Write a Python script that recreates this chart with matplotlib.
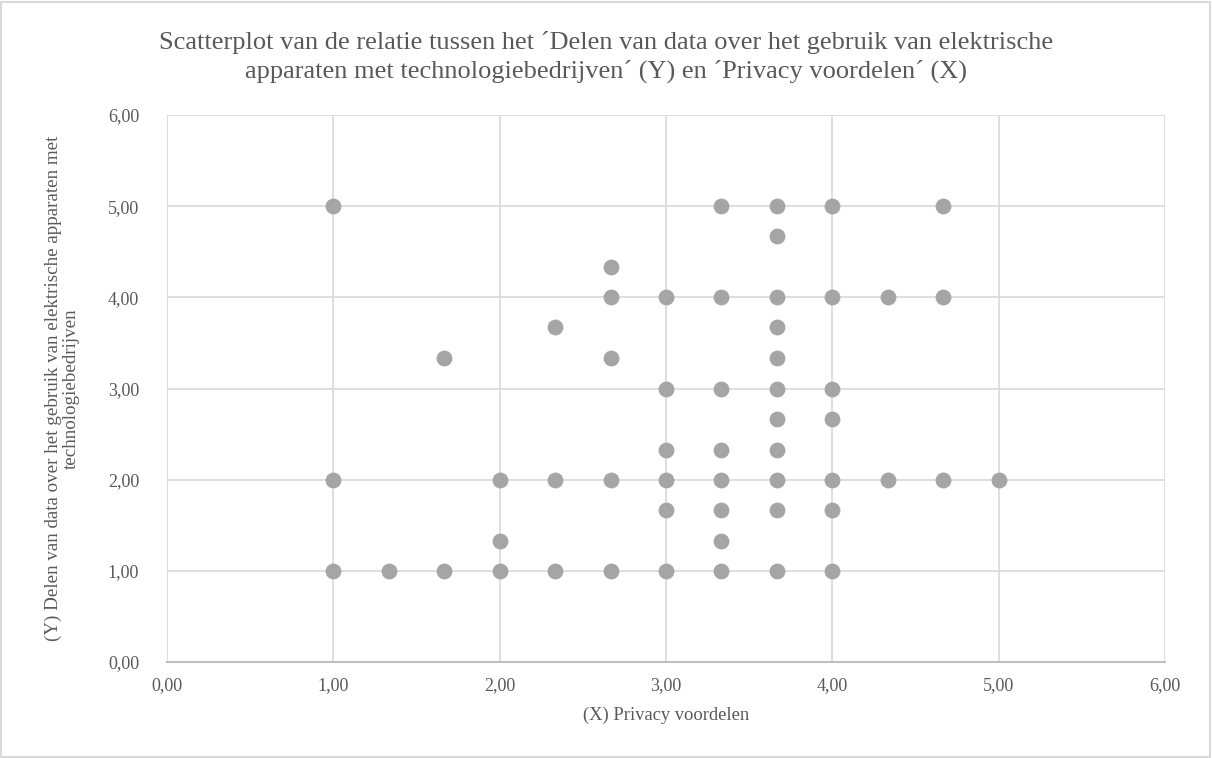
import numpy as np
import matplotlib.pyplot as plt
from matplotlib.patches import Rectangle

# values read per x column (thirds of a point)
x_1_00 = [5.00, 2.00, 1.00]
x_1_33 = [1.00]
x_1_67 = [3.33, 1.00]
x_2_00 = [2.00, 1.33, 1.00]
x_2_33 = [3.67, 2.00, 1.00]
x_2_67 = [4.33, 4.00, 3.33, 2.00, 1.00]
x_3_00 = [4.00, 3.00, 2.33, 2.00, 1.67, 1.00]
x_3_33 = [5.00, 4.00, 3.00, 2.33, 2.00, 1.67, 1.33, 1.00]
x_3_67 = [5.00, 4.67, 4.00, 3.67, 3.33, 3.00, 2.67, 2.33, 2.00, 1.67, 1.00]
x_4_00 = [5.00, 4.00, 3.00, 2.67, 2.00, 1.67, 1.00]
x_4_33 = [4.00, 2.00]
x_4_67 = [5.00, 4.00, 2.00]
x_5_00 = [2.00]

columns = {1.00: x_1_00, 1.333: x_1_33, 1.667: x_1_67, 2.00: x_2_00,
           2.333: x_2_33, 2.667: x_2_67, 3.00: x_3_00, 3.333: x_3_33,
           3.667: x_3_67, 4.00: x_4_00, 4.333: x_4_33, 4.667: x_4_67,
           5.00: x_5_00}

xs, ys = [], []
for xv, yvals in columns.items():
    for yv in yvals:
        xs.append(xv)
        ys.append(yv)

title = ("Scatterplot van de relatie tussen het \u00b4Delen van data over het gebruik van elektrische\n"
         "apparaten met technologiebedrijven\u00b4 (Y) en \u00b4Privacy voordelen\u00b4 (X)")
xlabel = "(X) Privacy voordelen"
ylabel = "(Y) Delen van data over het gebruik van elektrische apparaten met\ntechnologiebedrijven"
ticks = [0, 1, 2, 3, 4, 5, 6]

plt.rcParams['font.family'] = ['Liberation Serif', 'DejaVu Serif']
txt = '#595959'
grid = '#D9D9D9'

fig = plt.figure(figsize=(12.12, 7.58), dpi=100)
fig.patches.append(Rectangle((0.001, 0.001), 0.997, 0.996, transform=fig.transFigure,
                             fill=False, edgecolor=grid, linewidth=1.5))
ax = fig.add_axes([0.1378, 0.1266, 0.8234, 0.7216])

ax.scatter(xs, ys, s=130, color='#A5A5A5', linewidths=0, zorder=3, clip_on=False)

ax.set_xlim(0, 6)
ax.set_ylim(0, 6)
ax.set_xticks(ticks)
ax.set_yticks(ticks)
ax.set_xticklabels([f"{t:.2f}".replace('.', ',') for t in ticks])
ax.set_yticklabels([f"{t:.2f}".replace('.', ',') for t in ticks])
ax.tick_params(length=0, labelsize=13, colors=txt)
ax.tick_params(axis='x', pad=11)
ax.tick_params(axis='y', pad=20)
ax.grid(True, color=grid, linewidth=1.2, zorder=0)
for side in ['left', 'top', 'right']:
    ax.spines[side].set_visible(False)
ax.spines['bottom'].set_color('#BFBFBF')
ax.spines['bottom'].set_linewidth(1.5)

ax.set_xlabel(xlabel, fontsize=13.3, color=txt, labelpad=9)
ax.set_ylabel(ylabel, fontsize=13.7, color=txt, labelpad=20, linespacing=1.1)
fig.text(0.5, 0.925, title, ha='center', va='center', fontsize=19, color=txt,
         linespacing=1.32)

fig.savefig('out.png', dpi=100, facecolor='white')
